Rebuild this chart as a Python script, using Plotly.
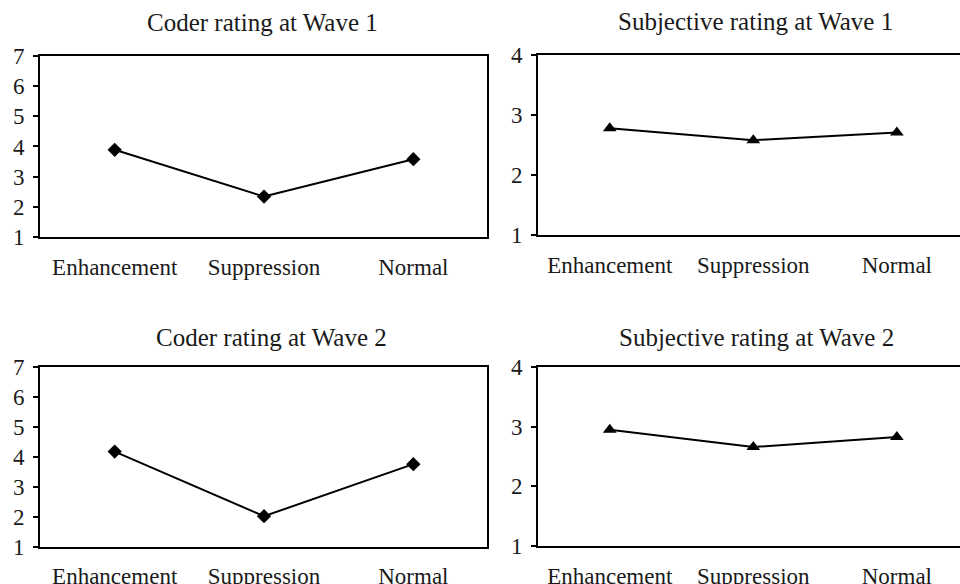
import plotly.graph_objects as go

categories = ["Enhancement", "Suppression", "Normal"]
coder_w1 = [3.89, 2.34, 3.58]
subj_w1 = [2.78, 2.58, 2.71]
coder_w2 = [4.18, 2.02, 3.76]
subj_w2 = [2.95, 2.66, 2.83]
titles = ["Coder rating at Wave 1", "Subjective rating at Wave 1",
          "Coder rating at Wave 2", "Subjective rating at Wave 2"]
coder_ticks = [1, 2, 3, 4, 5, 6, 7]
subj_ticks = [1, 2, 3, 4]

FONT = "Liberation Serif, Times New Roman, serif"
TXT = "#1a1a1a"

fig = go.Figure()

panels = [
    # (values, marker, x-domain, y-domain, yrange, ticks, xrange, right_frame)
    (coder_w1, "diamond", [0.0417, 0.5068], [0.5942, 0.9041], [1, 7], coder_ticks, [-0.5, 2.49], True),
    (subj_w1, "triangle-up", [0.5604, 1.0], [0.5976, 0.9058], [1, 4], subj_ticks, [-0.5, 2.44], False),
    (coder_w2, "diamond", [0.0417, 0.5068], [0.0639, 0.3711], [1, 7], coder_ticks, [-0.5, 2.49], True),
    (subj_w2, "triangle-up", [0.5604, 1.0], [0.0651, 0.3711], [1, 4], subj_ticks, [-0.5, 2.44], False),
]

layout = {}
for i, (vals, sym, xd, yd, yr, yt, xr, rframe) in enumerate(panels, start=1):
    xa = "x" if i == 1 else f"x{i}"
    ya = "y" if i == 1 else f"y{i}"
    fig.add_trace(go.Scatter(
        x=categories, y=vals, xaxis=xa, yaxis=ya, mode="lines+markers",
        line=dict(color="black", width=2),
        marker=dict(symbol=sym, size=11 if sym == "diamond" else 12, color="black"),
        showlegend=False, cliponaxis=False))
    kx = "xaxis" if i == 1 else f"xaxis{i}"
    ky = "yaxis" if i == 1 else f"yaxis{i}"
    layout[kx] = dict(domain=xd, anchor=ya, type="category", range=xr,
                      automargin=False,
                      showline=True, linecolor="black", linewidth=2, mirror=True,
                      showgrid=False, zeroline=False, ticks="outside", ticklen=0,
                      ticklabelstandoff=8,
                      tickfont=dict(family=FONT, size=23, color=TXT))
    layout[ky] = dict(domain=yd, anchor=xa, range=yr, tickvals=yt,
                      automargin=False,
                      showline=True, linecolor="black", linewidth=2, mirror=rframe,
                      showgrid=False, zeroline=False, ticks="outside", ticklen=5,
                      tickwidth=1.5, tickcolor="black", ticklabelstandoff=4,
                      tickfont=dict(family=FONT, size=23, color=TXT))

title_pos = [(0.2734, 0.9623), (0.7865, 0.9640), (0.2828, 0.4229), (0.7885, 0.4229)]
annotations = []
for t, (x, y) in zip(titles, title_pos):
    annotations.append(dict(text=t, x=x, y=y, xref="paper", yref="paper",
                            xanchor="center", yanchor="middle", showarrow=False,
                            font=dict(family=FONT, size=25, color=TXT)))

fig.update_layout(template="none", width=960, height=584,
                  margin=dict(l=0, r=0, t=0, b=0, autoexpand=False),
                  paper_bgcolor="white", plot_bgcolor="white",
                  annotations=annotations, **layout)

fig.write_html("out.html", config={"displayModeBar": False},
               post_script="document.body.style.margin='0';document.body.style.overflow='hidden';")
